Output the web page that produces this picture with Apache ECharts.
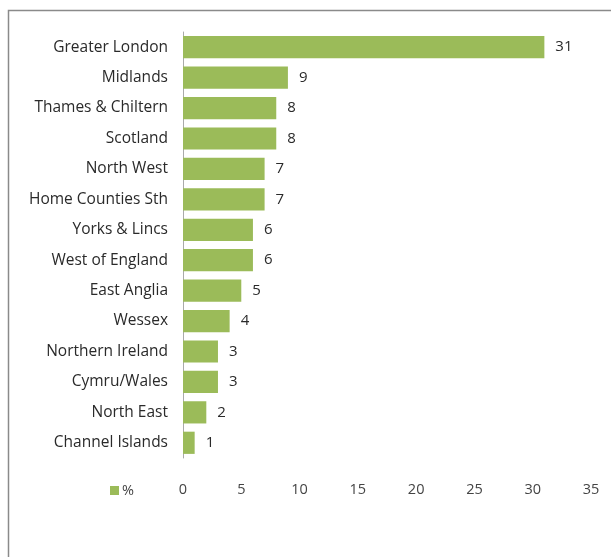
<!DOCTYPE html>
<html>
<head>
<meta charset="utf-8">
<script src="https://cdn.jsdelivr.net/npm/echarts@6/dist/echarts.min.js"></script>
<style>
html,body{margin:0;padding:0;background:#fff;}
#chart{width:611px;height:557px;}
</style>
</head>
<body>
<div id="chart"></div>
<script>
const categories = ["Greater London","Midlands","Thames & Chiltern","Scotland","North West","Home Counties Sth","Yorks & Lincs","West of England","East Anglia","Wessex","Northern Ireland","Cymru/Wales","North East","Channel Islands"];
const values = [31,9,8,8,7,7,6,6,5,4,3,3,2,1];
const seriesName = "%";
const xTicks = {min:0, max:35, interval:5};

const chart = echarts.init(document.getElementById('chart'), null, {renderer:'canvas'});
const font = '"Open Sans", sans-serif';
chart.setOption({
  animation:false,
  backgroundColor:'#fff',
  graphic:[{type:'rect', shape:{x:8.5,y:10.5,width:700,height:700}, style:{fill:'none',stroke:'#8a8a8a',lineWidth:1.5}, silent:true}],
  legend:{show:true, left:105, top:478, itemWidth:9, itemHeight:9, itemGap:4, icon:'rect',
    textStyle:{fontFamily:font, fontSize:14.5, color:'#444', padding:[0,0,0,-2]}, data:[seriesName]},
  grid:{left:183, right:20, top:32, bottom:99, containLabel:false},
  xAxis:{type:'value', min:xTicks.min, max:xTicks.max, interval:xTicks.interval,
    axisLine:{show:false}, axisTick:{show:false}, splitLine:{show:false},
    axisLabel:{margin:24, fontFamily:font, fontSize:14.5, color:'#444'}},
  yAxis:{type:'category', data:categories, inverse:true,
    axisLine:{show:true, lineStyle:{color:'#aaa', width:1}}, axisTick:{show:false},
    axisLabel:{margin:15, fontFamily:font, fontSize:15.5, color:'#2a2a2a'}},
  series:[{name:seriesName, type:'bar', data:values, barCategoryGap:'27%',
    itemStyle:{color:'#9BBB59'},
    label:{show:true, position:'right', distance:11, fontFamily:font, fontSize:15, color:'#2a2a2a'}}]
});
</script>
</body>
</html>
